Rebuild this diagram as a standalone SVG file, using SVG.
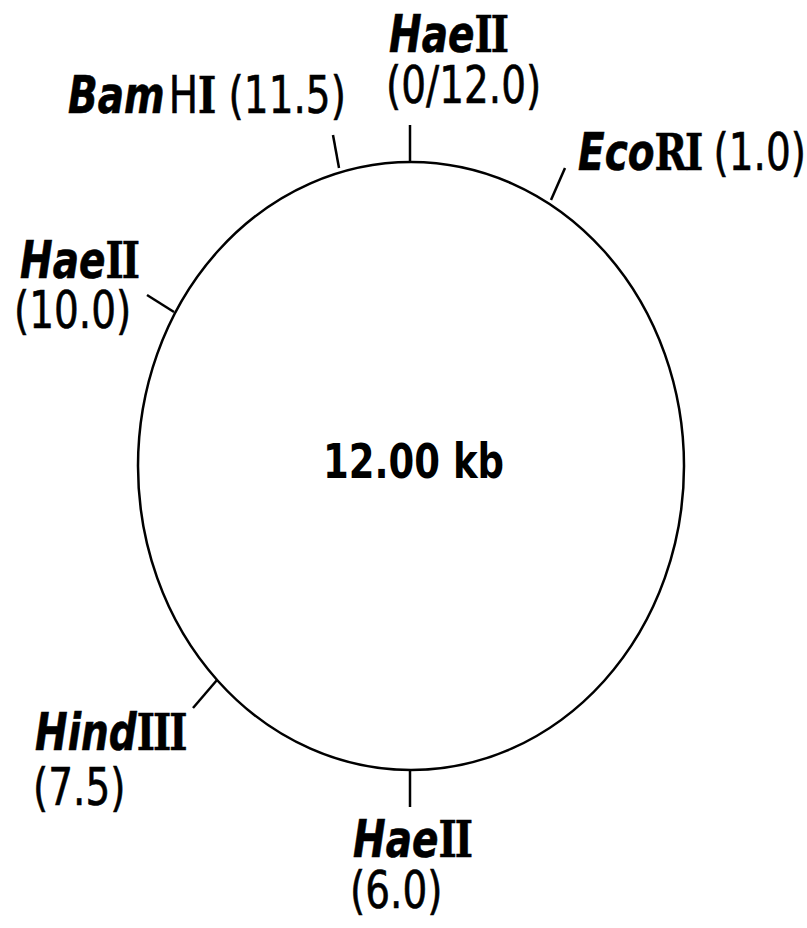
<svg xmlns="http://www.w3.org/2000/svg" width="807" height="928" viewBox="0 0 807 928">
<style>
.lbl{font-family:"DejaVu Sans","Liberation Sans",sans-serif;font-size:39px;fill:#000;stroke:#000;stroke-width:0.5}
.it{font-weight:bold;font-style:italic}
.rn{font-family:"DejaVu Serif","Liberation Serif",serif;font-weight:bold}
.tick{stroke:#000;stroke-width:2.5;fill:none}
.center{font-family:"DejaVu Sans","Liberation Sans",sans-serif;font-size:37px;font-weight:bold;fill:#000}
</style>
<rect width="807" height="928" fill="#fff"/>
<g id="plasmid">
<ellipse cx="411" cy="466" rx="273" ry="304" fill="none" stroke="#000" stroke-width="2.5"/>
<text class="center" transform="translate(323,478) scale(1,1.3)">12.00 kb</text>
</g>
<g id="connectors">
<line class="tick" x1="410" y1="125" x2="410" y2="162"/>
<line class="tick" x1="333" y1="135" x2="339" y2="168"/>
<line class="tick" x1="565" y1="168" x2="551" y2="200"/>
<line class="tick" x1="147" y1="295" x2="174" y2="312"/>
<line class="tick" x1="193" y1="708" x2="217" y2="680"/>
<line class="tick" x1="410" y1="770" x2="410" y2="807"/>
</g>
<g id="haeII-0">
<text class="lbl" transform="translate(389,52) scale(1,1.3)"><tspan class="it">Hae</tspan><tspan class="rn" letter-spacing="-2">II</tspan></text>
<text class="lbl" transform="translate(386,103) scale(1,1.3)">(0/12.0)</text>
</g>
<g id="bamHI">
<text class="lbl" transform="translate(68,113) scale(1,1.3)"><tspan class="it">Bam</tspan><tspan dx="4">H</tspan><tspan class="rn">I</tspan> (11.5)</text>
</g>
<g id="ecoRI">
<text class="lbl" transform="translate(578,170) scale(1,1.3)"><tspan class="it">Eco</tspan><tspan class="rn" letter-spacing="-2">RI</tspan> (1.0)</text>
</g>
<g id="haeII-10">
<text class="lbl" transform="translate(20,278) scale(1,1.3)"><tspan class="it">Hae</tspan><tspan class="rn" letter-spacing="-2">II</tspan></text>
<text class="lbl" transform="translate(14,328) scale(1,1.3)">(10.0)</text>
</g>
<g id="hindIII">
<text class="lbl" transform="translate(35,750) scale(1,1.3)"><tspan class="it">Hind</tspan><tspan class="rn" letter-spacing="-2">III</tspan></text>
<text class="lbl" transform="translate(33,805) scale(1,1.3)">(7.5)</text>
</g>
<g id="haeII-6">
<text class="lbl" transform="translate(353,857) scale(1,1.3)"><tspan class="it">Hae</tspan><tspan class="rn" letter-spacing="-2">II</tspan></text>
<text class="lbl" transform="translate(350,908) scale(1,1.3)">(6.0)</text>
</g>
</svg>
